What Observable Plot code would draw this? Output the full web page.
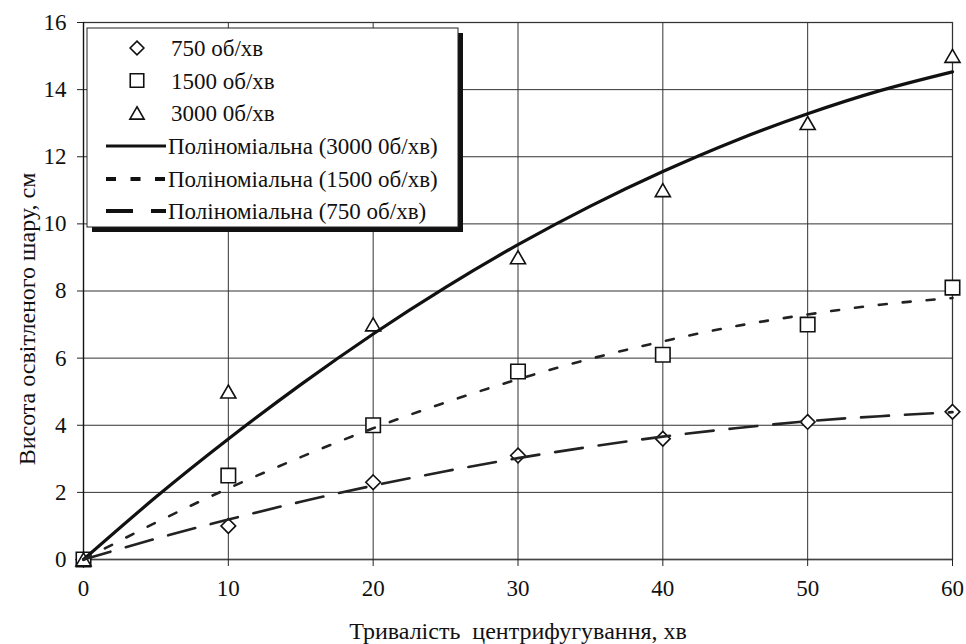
<!DOCTYPE html>
<html>
<head>
<meta charset="utf-8">
<script src="https://cdn.jsdelivr.net/npm/d3@7"></script>
<script src="https://cdn.jsdelivr.net/npm/@observablehq/plot@0.6"></script>
<style>
  html, body { margin: 0; padding: 0; background: #fff; }
  #chart { width: 966px; height: 644px; }
  #chart svg, #chart svg text { font-family: "Liberation Serif", "Times New Roman", serif !important; }
</style>
</head>
<body>
<div id="chart"></div>
<script>
// Measured points
const times = [0, 10, 20, 30, 40, 50, 60];
const h750  = [0, 1, 2.3, 3.1, 3.6, 4.1, 4.4];
const h1500 = [0, 2.5, 4, 5.6, 6.1, 7, 8.1];
const h3000 = [0, 5, 7, 9, 11, 13, 15];

// Trend curves (values read from the drawn polynomial trendlines)
const trendTimes = [0, 5, 10, 15, 20, 25, 30, 35, 40, 45, 50, 55, 60];
const trend3000 = [0, 1.86, 3.59, 5.21, 6.72, 8.11, 9.38, 10.53, 11.56, 12.48, 13.28, 13.97, 14.53];
const trend1500 = [0, 1.10, 2.12, 3.05, 3.91, 4.68, 5.37, 5.98, 6.50, 6.95, 7.30, 7.59, 7.79];
const trend750  = [0, 0.62, 1.19, 1.72, 2.20, 2.63, 3.02, 3.36, 3.66, 3.91, 4.12, 4.27, 4.39];

const xTicks = [0, 10, 20, 30, 40, 50, 60];
const yTicks = [0, 2, 4, 6, 8, 10, 12, 14, 16];

const xLabel = "Тривалість\u00a0 центрифугування, хв";
const yLabel = "Висота освітленого шару, см";

const legendLabels = [
  "750 об/хв",
  "1500 об/хв",
  "3000 0б/хв",
  "Поліноміальна (3000 0б/хв)",
  "Поліноміальна (1500 об/хв)",
  "Поліноміальна (750 об/хв)"
];

const pts = (ys) => times.map((t, i) => ({x: t, y: ys[i]}));
const tr = (ys) => trendTimes.map((t, i) => ({x: t, y: ys[i]}));

const font = '"Liberation Serif", "Times New Roman", serif';

const chart = Plot.plot({
  width: 966,
  height: 644,
  marginLeft: 83,
  marginRight: 14,
  marginTop: 22,
  marginBottom: 85,
  style: {fontFamily: font, fontSize: "23px", color: "#111", background: "#fff"},
  x: {domain: [0, 60], ticks: xTicks, label: null},
  y: {domain: [0, 16], ticks: yTicks, label: null},
  marks: [
    Plot.frame({stroke: "#999", strokeWidth: 1.5}),
    Plot.gridX(xTicks, {stroke: "#333", strokeOpacity: 1, strokeWidth: 1}),
    Plot.gridY(yTicks, {stroke: "#333", strokeOpacity: 1, strokeWidth: 1}),
    Plot.ruleX([0], {stroke: "#111", strokeWidth: 1.2}),
    Plot.ruleY([0], {stroke: "#444", strokeWidth: 1.5}),
    Plot.axisX(xTicks, {tickSize: 7, tickPadding: 13, fontSize: 23, stroke: "#222"}),
    Plot.axisY(yTicks, {tickSize: 6, tickPadding: 11, fontSize: 23, stroke: "#222"}),
    Plot.dot(pts(h750), {x: "x", y: "y", symbol: "diamond2", r: 6.6, stroke: "#111", strokeWidth: 1.6, fill: "white"}),
    Plot.dot(pts(h1500), {x: "x", y: "y", symbol: "square2", r: 9.2, stroke: "#111", strokeWidth: 1.6, fill: "white"}),
    Plot.dot(pts(h3000), {x: "x", y: "y", symbol: "triangle2", r: 7.2, dy: 2, stroke: "#111", strokeWidth: 1.6, fill: "white"}),
    Plot.line(tr(trend3000), {x: "x", y: "y", curve: "natural", stroke: "#111", strokeWidth: 3.2}),
    Plot.line(tr(trend1500), {x: "x", y: "y", curve: "natural", stroke: "#222", strokeWidth: 2.6, strokeDasharray: "8,16"}),
    Plot.line(tr(trend750), {x: "x", y: "y", curve: "natural", stroke: "#222", strokeWidth: 2.6, strokeDasharray: "28,16"}),
    Plot.text([xLabel], {frameAnchor: "bottom", textAnchor: "middle", lineAnchor: "middle", dy: 72, text: d => d, fontSize: 24, fill: "#111"}),
    Plot.text([yLabel], {frameAnchor: "left", textAnchor: "middle", lineAnchor: "middle", dx: -56, dy: 28, rotate: -90, text: d => d, fontSize: 24, fill: "#111"})
  ]
});

document.getElementById("chart").appendChild(chart);

// Legend box inside the plot area
const svg = d3.select(chart);
const lg = svg.append("g").attr("font-size", 23).attr("fill", "#111").attr("text-anchor", "start");
const bx = 87, by = 28, bw = 371, bh = 199;
lg.append("rect").attr("x", bx + 5).attr("y", by + 5).attr("width", bw).attr("height", bh).attr("fill", "#111");
lg.append("rect").attr("x", bx).attr("y", by).attr("width", bw).attr("height", bh).attr("fill", "white").attr("stroke", "#222").attr("stroke-width", 1);

const rowY = [48, 80.5, 113, 146, 179, 211];
const symX = 137, textX = 171;
const sym = [d3.symbolDiamond2, d3.symbolSquare2, d3.symbolTriangle2];
const symSize = [Math.PI * 6.2 * 6.2, Math.PI * 8.6 * 8.6, Math.PI * 6.8 * 6.8];
const lineStyles = [
  {dash: null, w: 3.2},
  {dash: "10,14.5", w: 4},
  {dash: "27,18", w: 4}
];
legendLabels.forEach((lab, i) => {
  const y = rowY[i];
  if (i < 3) {
    lg.append("path")
      .attr("d", d3.symbol(sym[i], symSize[i])())
      .attr("transform", `translate(${symX},${y + (i === 2 ? 2 : 0)})`)
      .attr("fill", "white").attr("stroke", "#111").attr("stroke-width", 1.6);
  } else {
    const s = lineStyles[i - 3];
    const l = lg.append("line").attr("x1", 106).attr("x2", 166).attr("y1", y).attr("y2", y)
      .attr("stroke", "#111").attr("stroke-width", s.w);
    if (s.dash) l.attr("stroke-dasharray", s.dash);
  }
  lg.append("text").attr("x", i < 3 ? textX : 168).attr("y", y).attr("dy", "0.35em")
    .attr("text-anchor", "start").text(lab);
});
</script>
</body>
</html>
